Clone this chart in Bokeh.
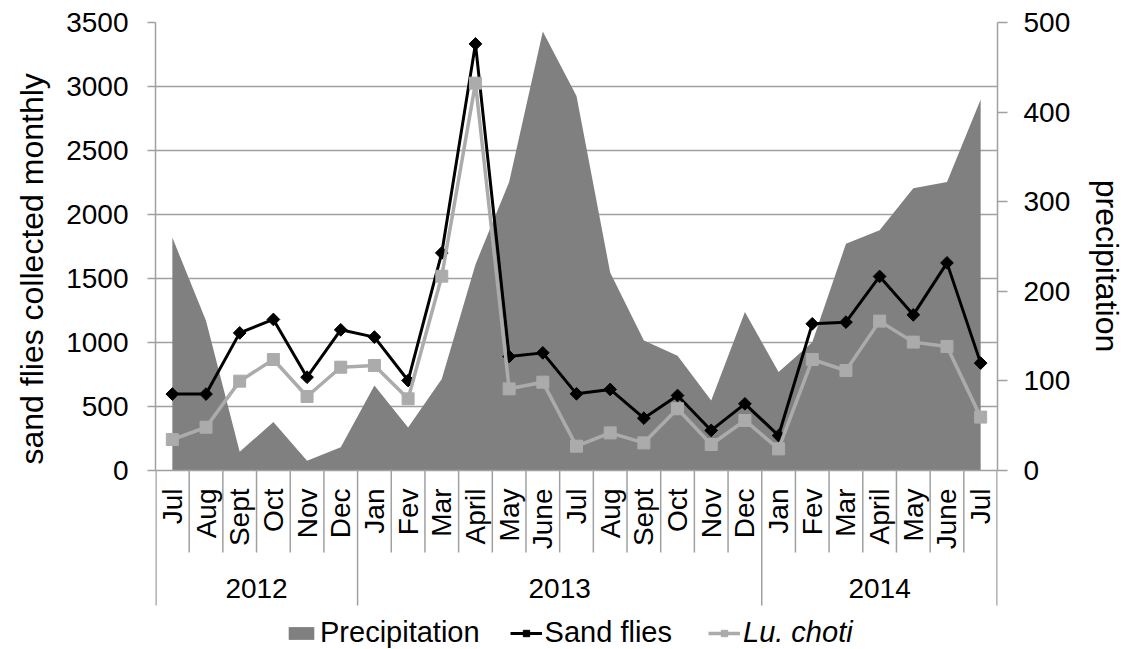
import numpy as np
from bokeh.plotting import figure
from bokeh.layouts import row
from bokeh.models import (Range1d, LinearAxis, FixedTicker, Legend, LegendItem)
from bokeh.core.properties import value
from bokeh.embed import file_html
from bokeh.resources import INLINE

# ---------------- data ----------------
months = ["Jul", "Aug", "Sept", "Oct", "Nov", "Dec",
          "Jan", "Fev", "Mar", "April", "May", "June",
          "Jul", "Aug", "Sept", "Oct", "Nov", "Dec",
          "Jan", "Fev", "Mar", "April", "May", "June", "Jul"]
years = ["2012"] * 6 + ["2013"] * 12 + ["2014"] * 7
year_labels = ["2012", "2013", "2014"]

sand_flies = [597, 597, 1075, 1180, 729, 1099, 1042, 703, 1700, 3333, 891, 919,
              599, 633, 409, 586, 313, 521, 273, 1146, 1159, 1516, 1216, 1622, 839]
lu_choti = [242, 338, 698, 867, 578, 807, 820, 560, 1518, 3026, 638, 690,
            190, 294, 216, 482, 203, 391, 169, 867, 781, 1167, 1003, 969, 417]
precipitation = [260, 167, 21, 54, 11, 26, 95, 48, 102, 230, 322, 490,
                 418, 221, 145, 128, 78, 177, 110, 143, 253, 268, 315, 322, 414]

left_ticks = [0, 500, 1000, 1500, 2000, 2500, 3000, 3500]
right_ticks = [0, 100, 200, 300, 400, 500]
left_title = "sand flies collected monthly"
right_title = "precipitation"

# ---------------- layout (page pixels) ----------------
FONT = "Liberation Sans"
W, H = 1137, 649
LEFT_W, RIGHT_W = 60, 50
MAIN_W = W - LEFT_W - RIGHT_W
FRAME_L, FRAME_R = 155, 997
FRAME_T, ZERO_Y, FRAME_B = 22, 470, 649
LEFT_MAX = left_ticks[-1]
RIGHT_MAX = right_ticks[-1]
n = len(months)
idx = list(range(n))

def ly(py):
    return (ZERO_Y - py) * LEFT_MAX / (ZERO_Y - FRAME_T)

def ry(py):
    return (ZERO_Y - py) * RIGHT_MAX / (ZERO_Y - FRAME_T)

GRID = "#a0a0a0"
AREA = "#808080"
LIGHT = "#ababab"

p = figure(width=MAIN_W, height=H, output_backend="svg", toolbar_location=None,
           x_range=Range1d(-0.5, n - 0.5), y_range=Range1d(ly(FRAME_B), LEFT_MAX),
           x_axis_location=None, y_axis_location="left",
           min_border_left=FRAME_L - LEFT_W,
           min_border_right=(LEFT_W + MAIN_W) - FRAME_R,
           min_border_top=FRAME_T, min_border_bottom=0,
           outline_line_color=None, background_fill_color="white",
           border_fill_color="white")
p.extra_y_ranges = {"precip": Range1d(ry(FRAME_B), RIGHT_MAX)}

# grid
for g in p.xgrid:
    g.visible = False
p.ygrid.ticker = FixedTicker(ticks=left_ticks[1:])
p.ygrid.grid_line_color = GRID
p.ygrid.grid_line_width = 1.5

# left axis
ax = p.yaxis[0]
ax.ticker = FixedTicker(ticks=left_ticks)
ax.bounds = (0, LEFT_MAX)
ax.axis_line_color = GRID
ax.axis_line_width = 1.5
ax.major_tick_line_color = GRID
ax.major_tick_line_width = 1.5
ax.major_tick_out = 8
ax.major_tick_in = 0
ax.minor_tick_out = 0
ax.minor_tick_in = 0
ax.major_label_standoff = 19
ax.major_label_text_font = FONT
ax.major_label_text_font_size = "28px"
ax.major_label_text_color = "black"

# right axis
rax = LinearAxis(y_range_name="precip", ticker=FixedTicker(ticks=right_ticks),
                 bounds=(0, RIGHT_MAX))
rax.axis_line_color = GRID
rax.axis_line_width = 1.5
rax.major_tick_line_color = GRID
rax.major_tick_line_width = 1.5
rax.major_tick_out = 10
rax.major_tick_in = 0
rax.minor_tick_out = 0
rax.minor_tick_in = 0
rax.major_label_standoff = 16
rax.major_label_text_font = FONT
rax.major_label_text_font_size = "28px"
rax.major_label_text_color = "black"
p.add_layout(rax, "right")

# precipitation area
area = p.varea(x=idx, y1=[0] * n, y2=precipitation, y_range_name="precip",
               fill_color=AREA)

# x axis line and category separators
p.segment(x0=[-0.5], y0=[0], x1=[n - 0.5], y1=[0], line_color=GRID, line_width=1.5)
bounds = [i - 0.5 for i in range(n + 1)]
year_bounds = [b for b in bounds
               if b < 0 or b > n - 1 or years[int(b - 0.5)] != years[int(b + 0.5)]]
month_bounds = [b for b in bounds if b not in year_bounds]
p.segment(x0=month_bounds, y0=[0] * len(month_bounds), x1=month_bounds,
          y1=[ly(552)] * len(month_bounds), line_color=GRID, line_width=1.5)
p.segment(x0=year_bounds, y0=[0] * len(year_bounds), x1=year_bounds,
          y1=[ly(605)] * len(year_bounds), line_color=GRID,
          line_width=[2.5 if (b < 0 or b > n - 1) else 1.5 for b in year_bounds])

# month and year labels
p.text(x=idx, y=[0] * n, text=months, angle=np.pi / 2, text_align="right",
       text_baseline="middle", y_offset=18, text_font=value(FONT),
       text_font_size="28px", text_color="black")
year_centers = [float(np.mean([i for i in idx if years[i] == y])) for y in year_labels]
p.text(x=year_centers, y=[0] * len(year_labels), text=year_labels, y_offset=118,
       text_align="center", text_baseline="middle", text_font=value(FONT),
       text_font_size="28px", text_color="black")

# series
sf_line = p.line(idx, sand_flies, line_color="black", line_width=3)
sf_pts = p.scatter(idx, sand_flies, marker="square", angle=np.pi / 4, size=9,
                   fill_color="black", line_color="black")
lc_line = p.line(idx, lu_choti, line_color=LIGHT, line_width=3.5)
lc_pts = p.scatter(idx, lu_choti, marker="square", size=12,
                   fill_color=LIGHT, line_color=LIGHT)

# legends
common = dict(orientation="horizontal", glyph_width=32, glyph_height=16,
              label_standoff=3, spacing=30, padding=0, margin=0,
              border_line_color=None, background_fill_alpha=0,
              label_text_font=FONT, label_text_font_size="29px",
              label_text_color="black")
leg1 = Legend(items=[LegendItem(label="Precipitation", renderers=[area]),
                     LegendItem(label="Sand flies", renderers=[sf_line, sf_pts])],
              location=(285 - FRAME_L, 0), **common)
leg2 = Legend(items=[LegendItem(label="Lu. choti", renderers=[lc_line, lc_pts])],
              location=(708 - FRAME_L, 0), label_text_font_style="italic", **common)
p.add_layout(leg1)
p.add_layout(leg2)

# axis titles in narrow side figures (page-pixel coordinates)
def side_fig(w, x0):
    f = figure(width=w, height=H, output_backend="svg", toolbar_location=None,
               x_range=Range1d(x0, x0 + w), y_range=Range1d(H, 0),
               x_axis_location=None, y_axis_location=None,
               min_border=0, outline_line_color=None,
               background_fill_color="white", border_fill_color="white")
    for g in f.grid:
        g.visible = False
    return f

lf = side_fig(LEFT_W, 0)
lf.text(x=[31], y=[255], text=[left_title], angle=np.pi / 2, text_align="center",
        text_baseline="middle", text_font=value(FONT), text_font_size="32px",
        text_color="black")
rf = side_fig(RIGHT_W, LEFT_W + MAIN_W)
rf.text(x=[1106], y=[252], text=[right_title], angle=-np.pi / 2, text_align="center",
        text_baseline="middle", text_font=value(FONT), text_font_size="32px",
        text_color="black")

layout = row(lf, p, rf, spacing=0)
open("out.html", "w").write(file_html(layout, INLINE))
